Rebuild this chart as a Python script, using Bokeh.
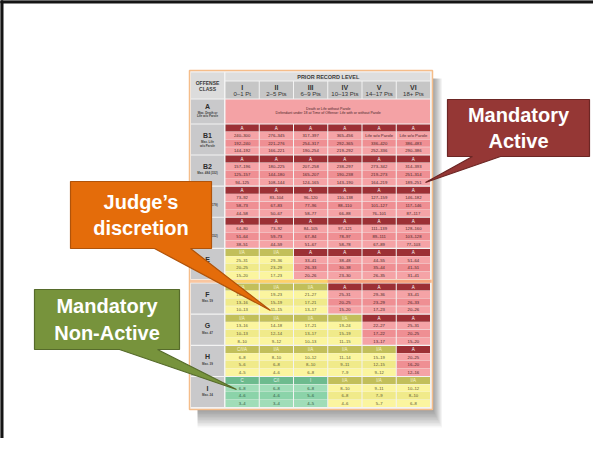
from bokeh.plotting import figure
from bokeh.models import Range1d, ColumnDataSource
from bokeh.core.properties import value
from bokeh.embed import file_html
from bokeh.resources import INLINE

# ---------------- data ----------------
levels = ["I", "II", "III", "IV", "V", "VI"]
level_points = ["0–1 Pt", "2–5 Pts", "6–9 Pts", "10–13 Pts", "14–17 Pts", "18+ Pts"]
classes = ["A", "B1", "B2", "C", "D", "E", "F", "G", "H", "I"]
class_max = [["Max. Death or", "Life w/o Parole"], ["Max. Life", "w/o Parole"],
             ["Max. 484 (332)"], ["Max. 231 (179)"], ["Max. 204 (152)"],
             ["Max. 63"], ["Max. 59"], ["Max. 47"], ["Max. 39"], ["Max. 24"]]
class_a_text = ["Death or Life without Parole",
                "Defendant under 18 at Time of Offense: Life with or without Parole"]

disp_B1 = ["A", "A", "A", "A", "A", "A"]
disp_B2 = ["A", "A", "A", "A", "A", "A"]
disp_C = ["A", "A", "A", "A", "A", "A"]
disp_D = ["A", "A", "A", "A", "A", "A"]
disp_E = ["I/A", "I/A", "A", "A", "A", "A"]
disp_F = ["I/A", "I/A", "I/A", "A", "A", "A"]
disp_G = ["I/A", "I/A", "I/A", "I/A", "A", "A"]
disp_H = ["C/I/A", "I/A", "I/A", "I/A", "I/A", "A"]
disp_I = ["C", "C/I", "I", "I/A", "I/A", "I/A"]

rng_B1 = [["240–300", "192–240", "144–192"], ["276–345", "221–276", "166–221"],
          ["317–397", "254–317", "190–254"], ["365–456", "292–365", "219–292"],
          ["Life w/o Parole", "336–420", "252–336"], ["Life w/o Parole", "386–483", "290–386"]]
rng_B2 = [["157–196", "125–157", "94–125"], ["180–225", "144–180", "108–144"],
          ["207–258", "165–207", "124–165"], ["238–297", "190–238", "143–190"],
          ["273–342", "219–273", "164–219"], ["314–393", "251–314", "189–251"]]
rng_C = [["73–92", "58–73", "44–58"], ["83–104", "67–83", "50–67"],
         ["96–120", "77–96", "58–77"], ["110–138", "88–110", "66–88"],
         ["127–159", "101–127", "76–101"], ["146–182", "117–146", "87–117"]]
rng_D = [["64–80", "51–64", "38–51"], ["73–92", "59–73", "44–59"],
         ["84–105", "67–84", "51–67"], ["97–121", "78–97", "58–78"],
         ["111–139", "89–111", "67–89"], ["128–160", "103–128", "77–103"]]
rng_E = [["25–31", "20–25", "15–20"], ["29–36", "23–29", "17–23"],
         ["33–41", "26–33", "20–26"], ["38–48", "30–38", "23–30"],
         ["44–55", "35–44", "26–35"], ["51–64", "41–51", "31–41"]]
rng_F = [["16–20", "13–16", "10–13"], ["19–23", "15–19", "11–15"],
         ["21–27", "17–21", "13–17"], ["25–31", "20–25", "15–20"],
         ["29–36", "23–29", "17–23"], ["33–41", "26–33", "20–26"]]
rng_G = [["13–16", "10–13", "8–10"], ["14–18", "12–14", "9–12"],
         ["17–21", "13–17", "10–13"], ["19–24", "15–19", "11–15"],
         ["22–27", "17–22", "13–17"], ["25–31", "20–25", "15–20"]]
rng_H = [["6–8", "5–6", "4–5"], ["8–10", "6–8", "4–6"],
         ["10–12", "8–10", "6–8"], ["11–14", "9–11", "7–9"],
         ["15–19", "12–15", "9–12"], ["20–25", "16–20", "12–16"]]
rng_I = [["6–8", "4–6", "3–4"], ["6–8", "4–6", "3–4"],
         ["6–8", "5–6", "4–5"], ["8–10", "6–8", "4–6"],
         ["9–11", "7–9", "5–7"], ["10–12", "8–10", "6–8"]]

dispositions = [None, disp_B1, disp_B2, disp_C, disp_D, disp_E, disp_F, disp_G, disp_H, disp_I]
ranges = [None, rng_B1, rng_B2, rng_C, rng_D, rng_E, rng_F, rng_G, rng_H, rng_I]

callout_lines = [["Mandatory", "Active"], ["Judge’s", "discretion"], ["Mandatory", "Non-Active"]]

# ---------------- styling ----------------
PAL = {
    "A": ("#9C3035", "#F5A3A6", "#EF8F93", "#FFFFFF", "#4A2628"),
    "I/A": ("#C2BF5A", "#FBF59F", "#F0EA8A", "#F8F5D0", "#5A5630"),
    "C/I/A": ("#C2BF5A", "#FBF59F", "#F0EA8A", "#F8F5D0", "#5A5630"),
    "C": ("#6DBB8E", "#A0DDB8", "#8BD3A9", "#E6F6EC", "#2F5A40"),
    "C/I": ("#6DBB8E", "#A0DDB8", "#8BD3A9", "#E6F6EC", "#2F5A40"),
    "I": ("#6DBB8E", "#A0DDB8", "#8BD3A9", "#E6F6EC", "#2F5A40"),
}
SEP = {"A": "#F6A17C", "I/A": "#FCD26A"}
FONT = value("Liberation Sans")

# data coordinates == window pixel coordinates (page margin 8px)
X0, X1, Y0, Y1 = 8, 601, 8, 446
p = figure(width=X1 - X0, height=Y1 - Y0, output_backend="svg", toolbar_location=None,
           x_range=Range1d(X0, X1), y_range=Range1d(Y1, Y0), min_border=0,
           background_fill_color="white", border_fill_color="white")
p.axis.visible = False
p.grid.visible = False
p.outline_line_color = None

quads = dict(l=[], r=[], t=[], b=[], c=[])
texts = dict(x=[], y=[], s=[], c=[], fs=[], st=[])


def q(l, r, t, b, c):
    quads["l"].append(l); quads["r"].append(r); quads["t"].append(t)
    quads["b"].append(b); quads["c"].append(c)


def tx(x, y, s, c, fs, st="normal"):
    texts["x"].append(x); texts["y"].append(y); texts["s"].append(s)
    texts["c"].append(c); texts["fs"].append(fs); texts["st"].append(st)


# slide frame
p.quad(left=[X0, X0], right=[X0 + 2.5, X1], top=[Y0, Y0], bottom=[Y1, Y0 + 2.5], color="#151515")

# grid geometry
GX0, GX1, GY0, GY1 = 197, 440, 78, 417.0
# drop shadow
for k in range(1, 13):
    p.quad(left=GX0 + 8, right=GX1 + k * 0.8, top=GY0 + 8, bottom=GY1 + k * 1.5,
           color="black", alpha=0.035, line_color=None)
p.quad(left=GX0, right=GX1, top=GY0, bottom=GY1, fill_color="#F3F3F3",
       line_color="#F5BD8A", line_width=1.5)

LX0, LX1 = 198.5, 231.5
CX0, CW = 233.0, 34.25


def row_span(i):
    if i == 0:
        return 107.0, 131.0
    if i <= 5:
        t = 132.0 + 31.1 * (i - 1)
    else:
        t = 291.0 + 31.2 * (i - 6)
    return t, t + 30.0


# header
q(LX0, LX1, 80, 106, "#DCDCDC")
tx((LX0 + LX1) / 2, 90, "OFFENSE", "#3A3A3A", "5px", "bold")
tx((LX0 + LX1) / 2, 96, "CLASS", "#3A3A3A", "5px", "bold")
q(CX0, CX0 + 6 * CW - 1, 80, 88, "#DEDEDE")
tx(CX0 + 3 * CW, 84.3, "PRIOR RECORD LEVEL", "#3A3A3A", "5.5px", "bold")
for j, lv in enumerate(levels):
    x0 = CX0 + j * CW
    q(x0, x0 + CW - 1, 89, 106, "#C6C6C6")
    tx(x0 + CW / 2 - 0.5, 94.5, lv, "#333333", "7px", "bold")
    tx(x0 + CW / 2 - 0.5, 101.5, level_points[j], "#333333", "6px")

# separator between E and F
q(GX0 + 0.5, GX1 - 0.5, 287.3, 290.3, "#F9C6A0")
for j in range(6):
    x0 = CX0 + j * CW
    q(x0 - 0.5, x0 + CW - 0.5, 287.3, 290.3, SEP[disp_F[j]])

for i, cl in enumerate(classes):
    t, b = row_span(i)
    q(LX0, LX1, t, b, "#C9C9CB")
    cx = (LX0 + LX1) / 2
    tx(cx, t + 11 if i else t + 7, cl, "#2E2E2E", "7px", "bold")
    for k, line in enumerate(class_max[i]):
        tx(cx, (t + 17.5 if i else t + 13) + k * 3.6, line, "#444444", "3px", "bold")
    if i == 0:
        q(CX0, CX0 + 6 * CW - 1, t, b, "#F4A2A5")
        tx(CX0 + 3 * CW, t + 9, class_a_text[0], "#4A2628", "3.6px")
        tx(CX0 + 3 * CW, t + 13.5, class_a_text[1], "#4A2628", "3.6px")
        continue
    for j in range(6):
        d = dispositions[i][j]
        hdr, light, dark, htc, tc = PAL[d]
        x0 = CX0 + j * CW
        x1 = x0 + CW - 1
        xm = (x0 + x1) / 2
        q(x0, x1, t, t + 7, hdr)
        tx(xm, t + 3.7, d, htc, "4.5px")
        rh = (b - t - 7) / 3
        for r in range(3):
            rt = t + 7 + r * rh
            q(x0, x1, rt + 0.3, rt + rh, light if r != 1 else dark)
            tx(xm, rt + rh / 2 + 0.3, ranges[i][j][r], tc, "4.2px")

src = ColumnDataSource(quads)
p.quad(left="l", right="r", top="t", bottom="b", fill_color="c", line_color=None, source=src)
tsrc = ColumnDataSource(texts)
p.text(x="x", y="y", text="s", text_color="c", text_font_size="fs", text_font_style="st",
       text_align="center", text_baseline="middle", text_font=FONT, source=tsrc)

# callouts: box (l, r, t, b), wedge base x pair, tip
boxes = [
    (455, 597, 107, 164, (480, 508), (433, 190), "#953735", "#6C2624"),
    (78, 219, 189, 256, (162, 198), (278, 318), "#E46C0A", "#B0530A"),
    (42, 187, 297, 357, (127, 165), (244, 397), "#77933C", "#566B2B"),
]
xs, ys, fc, lc = [], [], [], []
for (l, r, t, b, (w0, w1), (tx_, ty_), f, lcol) in boxes:
    xs.append([l, r, r, w1, tx_, w0, l])
    ys.append([t, t, b, b, ty_, b, b])
    fc.append(f); lc.append(lcol)
p.patches(xs=xs, ys=ys, fill_color=fc, line_color=lc, line_width=1.2)

ctx = dict(x=[], y=[], s=[])
for (l, r, t, b, *_), lines in zip(boxes, callout_lines):
    cx = (l + r) / 2
    cy = (t + b) / 2
    for k, line in enumerate(lines):
        ctx["x"].append(cx)
        ctx["y"].append(cy + (k - 0.5) * 26.5)
        ctx["s"].append(line)
p.text(x="x", y="y", text="s", source=ColumnDataSource(ctx), text_color="white",
       text_font_size="20px", text_font_style="bold", text_align="center",
       text_baseline="middle", text_font=FONT)

open("out.html", "w").write(file_html(p, INLINE))
